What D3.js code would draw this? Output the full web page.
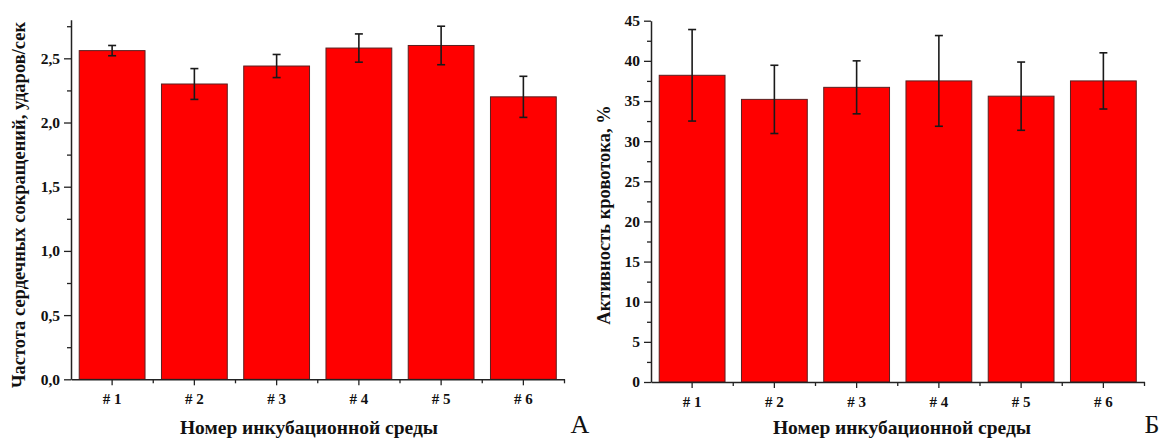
<!DOCTYPE html>
<html>
<head>
<meta charset="utf-8">
<script src="https://cdn.jsdelivr.net/npm/d3@7"></script>
<style>
  html, body { margin: 0; padding: 0; background: #fff; }
  svg { display: block; }
  text { font-family: "Liberation Serif", "Times New Roman", serif; fill: #111; }
</style>
</head>
<body>
<svg id="chart" width="1163" height="439"></svg>
<script>
// ---- Data ----
const categories = ["# 1", "# 2", "# 3", "# 4", "# 5", "# 6"];

const heartRate = [2.56, 2.30, 2.44, 2.58, 2.60, 2.20];
const heartRateErr = [0.04, 0.12, 0.09, 0.11, 0.15, 0.16];
const heartTicks = [0, 0.5, 1.0, 1.5, 2.0, 2.5];
const heartMinorTicks = [0.25, 0.75, 1.25, 1.75, 2.25, 2.75];

const bloodFlow = [38.2, 35.2, 36.7, 37.5, 35.6, 37.5];
const bloodFlowErr = [5.7, 4.25, 3.3, 5.65, 4.25, 3.5];
const flowTicks = [0, 5, 10, 15, 20, 25, 30, 35, 40, 45];
const flowMinorTicks = [2.5, 7.5, 12.5, 17.5, 22.5, 27.5, 32.5, 37.5, 42.5];

const xTitle = "Номер инкубационной среды";
const heartTitle = "Частота сердечных сокращений, ударов/сек";
const flowTitle = "Активность кровотока, %";

const svg = d3.select("#chart");

function panel(cfg) {
  const g = svg.append("g");
  const x = d3.scaleBand().domain(categories).range([cfg.x0, cfg.x1])
    .paddingInner(0.2).paddingOuter(0.1);
  const y = d3.scaleLinear().domain([0, cfg.yMax]).range([cfg.yBottom, cfg.yTop]);
  const step = x.step();

  // bars
  g.selectAll("rect.bar").data(cfg.values).enter().append("rect")
    .attr("x", (d, i) => x(categories[i]))
    .attr("y", d => y(d))
    .attr("width", x.bandwidth())
    .attr("height", d => y(0) - y(d))
    .attr("fill", "#ff0000")
    .attr("stroke", "#5a2020")
    .attr("stroke-width", 1);

  // error bars
  const eb = g.selectAll("g.err").data(cfg.values).enter().append("g")
    .attr("stroke", "#1a1a1a").attr("stroke-width", 1.6);
  const cx = i => x(categories[i]) + x.bandwidth() / 2;
  eb.append("line")
    .attr("x1", (d, i) => cx(i)).attr("x2", (d, i) => cx(i))
    .attr("y1", (d, i) => y(d + cfg.errs[i])).attr("y2", (d, i) => y(d - cfg.errs[i]));
  eb.append("line")
    .attr("x1", (d, i) => cx(i) - 4).attr("x2", (d, i) => cx(i) + 4)
    .attr("y1", (d, i) => y(d + cfg.errs[i])).attr("y2", (d, i) => y(d + cfg.errs[i]));
  eb.append("line")
    .attr("x1", (d, i) => cx(i) - 4).attr("x2", (d, i) => cx(i) + 4)
    .attr("y1", (d, i) => y(d - cfg.errs[i])).attr("y2", (d, i) => y(d - cfg.errs[i]));

  // y axis minor
  g.append("g").attr("transform", `translate(${cfg.x0},0)`)
    .call(d3.axisLeft(y).tickValues(cfg.minor).tickSize(4).tickFormat("").tickSizeOuter(0))
    .call(s => s.select(".domain").remove())
    .call(s => s.selectAll("line").attr("stroke", "#222").attr("stroke-width", 1.3));
  // y axis major
  g.append("g").attr("transform", `translate(${cfg.x0},0)`)
    .call(d3.axisLeft(y).tickValues(cfg.ticks).tickSize(7).tickPadding(4).tickSizeOuter(0)
      .tickFormat(cfg.fmt))
    .call(s => s.select(".domain").attr("stroke", "#222").attr("stroke-width", 1.5))
    .call(s => s.selectAll("line").attr("stroke", "#222").attr("stroke-width", 1.3))
    .call(s => s.selectAll("text").attr("font-size", 15.5).attr("font-weight", "bold")
      .attr("fill", "#111"));

  // x axis minor (band boundaries)
  const boundaries = categories.map((c, i) => cfg.x0 + step * (i + 1));
  g.append("g").selectAll("line").data(boundaries).enter().append("line")
    .attr("x1", d => d).attr("x2", d => d)
    .attr("y1", y(0)).attr("y2", y(0) + 4)
    .attr("stroke", "#222").attr("stroke-width", 1.3);
  // x axis major
  g.append("g").attr("transform", `translate(0,${y(0)})`)
    .call(d3.axisBottom(x).tickSize(6).tickPadding(8).tickSizeOuter(0))
    .call(s => s.select(".domain").attr("stroke", "#222").attr("stroke-width", 1.5))
    .call(s => s.selectAll("line").attr("stroke", "#222").attr("stroke-width", 1.3))
    .call(s => s.selectAll("text").attr("font-size", 15).attr("font-weight", "bold")
      .attr("fill", "#111"));

  // titles
  g.append("text").attr("x", cfg.xTitleX).attr("y", 434)
    .attr("text-anchor", "middle").attr("font-size", 19.5).attr("font-weight", "bold")
    .text(xTitle);
  g.append("text")
    .attr("transform", `translate(${cfg.yTitleX},${cfg.yTitleY}) rotate(-90)`)
    .attr("text-anchor", "middle").attr("font-size", 18.5).attr("font-weight", "bold")
    .text(cfg.yTitle);
  g.append("text").attr("x", cfg.letterX).attr("y", 433)
    .attr("text-anchor", "middle").attr("font-size", 26)
    .text(cfg.letter);
}

const commaFmt = d => d3.format(".1f")(d).replace(".", ",");

panel({
  x0: 71, x1: 564.5, yTop: 19.8, yBottom: 379.3, yMax: 2.8,
  values: heartRate, errs: heartRateErr, ticks: heartTicks, minor: heartMinorTicks,
  fmt: commaFmt, yTitle: heartTitle, yTitleX: 25, yTitleY: 205,
  xTitleX: 309, letter: "А", letterX: 580
});

panel({
  x0: 651, x1: 1144.5, yTop: 20.7, yBottom: 382, yMax: 45,
  values: bloodFlow, errs: bloodFlowErr, ticks: flowTicks, minor: flowMinorTicks,
  fmt: d3.format("d"), yTitle: flowTitle, yTitleX: 610, yTitleY: 215,
  xTitleX: 902, letter: "Б", letterX: 1152
});
</script>
</body>
</html>
